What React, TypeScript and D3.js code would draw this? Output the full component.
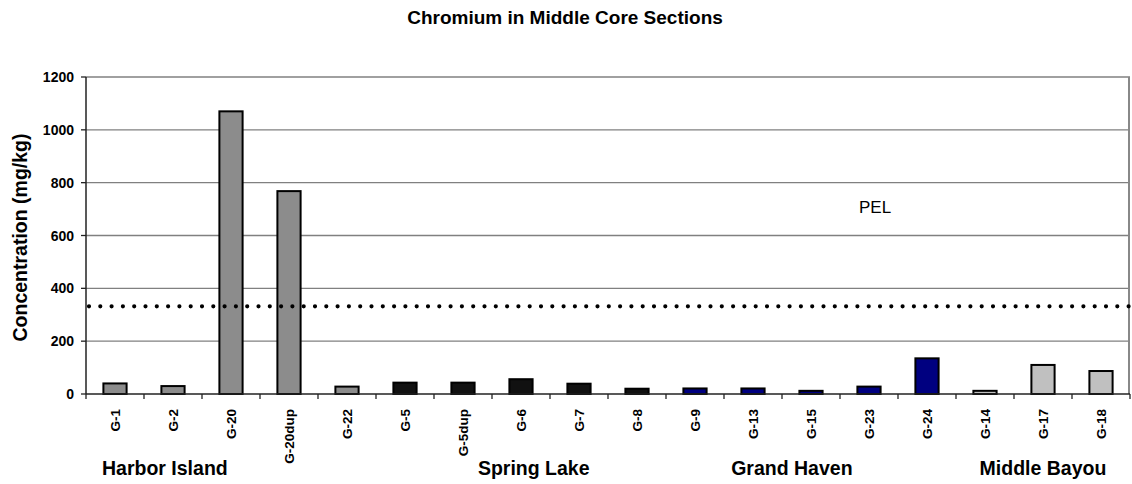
import React from 'react';
import * as d3 from 'd3';

const categories = ['G-1', 'G-2', 'G-20', 'G-20dup', 'G-22', 'G-5', 'G-5dup', 'G-6', 'G-7', 'G-8',
  'G-9', 'G-13', 'G-15', 'G-23', 'G-24', 'G-14', 'G-17', 'G-18'];
const values = [40, 30, 1070, 768, 28, 43, 43, 56, 39, 20, 21, 21, 12, 28, 135, 12, 110, 87];
const sites = ['Harbor Island', 'Harbor Island', 'Harbor Island', 'Harbor Island', 'Harbor Island',
  'Spring Lake', 'Spring Lake', 'Spring Lake', 'Spring Lake', 'Spring Lake',
  'Grand Haven', 'Grand Haven', 'Grand Haven', 'Grand Haven', 'Grand Haven',
  'Middle Bayou', 'Middle Bayou', 'Middle Bayou'];
const siteNames = ['Harbor Island', 'Spring Lake', 'Grand Haven', 'Middle Bayou'];
const siteColors = ['#8c8c8c', '#111111', '#000080', '#c0c0c0'];
// where each site label sits, in category slots from the left edge
const siteLabelSlot = [1.36, 7.72, 12.17, 16.5];
const yTicks = [0, 200, 400, 600, 800, 1000, 1200];
const pel = 332;

const W = 1132;
const H = 484;
const margin = { top: 77, right: 2, bottom: 90, left: 86 };

const App: React.FC = () => {
  const x = d3.scaleBand<string>()
    .domain(categories)
    .range([margin.left, W - margin.right])
    .paddingInner(0.6)
    .paddingOuter(0.3);

  const y = d3.scaleLinear()
    .domain([0, 1200])
    .range([H - margin.bottom, margin.top]);

  const slot = d3.scaleLinear()
    .domain([0, categories.length])
    .range([margin.left, W - margin.right]);

  const color = d3.scaleOrdinal<string, string>().domain(siteNames).range(siteColors);

  const x0 = margin.left;
  const x1 = W - margin.right;
  const y0 = y(0);
  const font = 'Arial, "Liberation Sans", Helvetica, sans-serif';

  return (
    <svg width={W} height={H} style={{ display: 'block', position: 'absolute', left: 0, top: 0 }}
      fontFamily={font}>
      <rect width={W} height={H} fill="#fff" />
      <text x={565} y={24} textAnchor="middle" fontSize={19} fontWeight="bold">
        Chromium in Middle Core Sections
      </text>

      {/* gridlines */}
      {yTicks.filter(t => t > 0).map(t => (
        <line key={t} x1={x0} x2={x1} y1={y(t)} y2={y(t)} stroke="#808080" strokeWidth={1.3} />
      ))}
      <line x1={x1 - 1} x2={x1 - 1} y1={y(1200)} y2={y0} stroke="#888" strokeWidth={2} />

      {/* bars */}
      {categories.map((c, i) => (
        <rect key={c} x={x(c)} y={y(values[i])} width={x.bandwidth()} height={y0 - y(values[i])}
          fill={color(sites[i])} stroke="#000" strokeWidth={2} />
      ))}

      {/* PEL reference line, drawn over the bars */}
      <line x1={x0 + 3} x2={x1} y1={y(pel)} y2={y(pel)} stroke="#000" strokeWidth={4.2}
        strokeLinecap="round" strokeDasharray="0 11.3" />
      <text x={859} y={213} fontSize={17}>PEL</text>

      {/* y axis */}
      <line x1={x0} x2={x0} y1={y(1200)} y2={y0} stroke="#222" strokeWidth={1.5} />
      {yTicks.map(t => (
        <g key={t}>
          <line x1={x0 - 5} x2={x0} y1={y(t)} y2={y(t)} stroke="#222" strokeWidth={1.3} />
          <text x={x0 - 12} y={y(t) + 5} textAnchor="end" fontSize={14} fontWeight="bold">{t}</text>
        </g>
      ))}
      <text transform={`translate(27,${(y(0) + y(1200)) / 2 + 2}) rotate(-90)`} textAnchor="middle"
        fontSize={19.5} fontWeight="bold">Concentration (mg/kg)</text>

      {/* x axis */}
      <line x1={x0} x2={x1} y1={y0} y2={y0} stroke="#222" strokeWidth={1.5} />
      {d3.range(categories.length + 1).map(i => (
        <line key={i} x1={slot(i)} x2={slot(i)} y1={y0} y2={y0 + 5} stroke="#222" strokeWidth={1.3} />
      ))}
      {categories.map(c => (
        <text key={c} transform={`translate(${(x(c) ?? 0) + x.bandwidth() / 2 + 5},${y0 + 15}) rotate(-90)`}
          textAnchor="end" fontSize={13.5} fontWeight="bold">{c}</text>
      ))}
      {siteNames.map((s, i) => (
        <text key={s} x={slot(siteLabelSlot[i])} y={475} textAnchor="middle" fontSize={19.5}
          fontWeight="bold">{s}</text>
      ))}
    </svg>
  );
};

export default App;
